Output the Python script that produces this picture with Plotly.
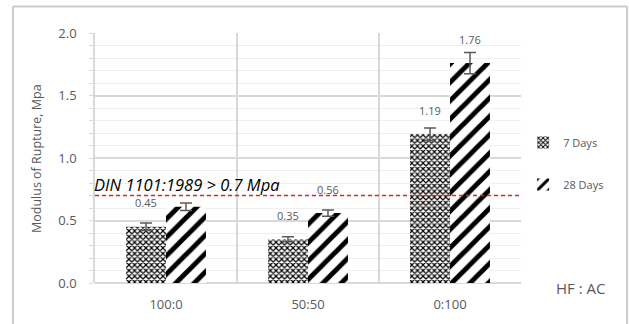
import plotly.graph_objects as go

categories = ["100:0", "50:50", "0:100"]
days7 = [0.45, 0.35, 1.19]
days28 = [0.61, 0.56, 1.76]
err7 = [0.03, 0.02, 0.05]
err28 = [0.03, 0.025, 0.085]
labels7 = ["0.45", "0.35", "1.19"]
labels28 = ["", "0.56", "1.76"]
y_ticks = [0.0, 0.5, 1.0, 1.5, 2.0]
threshold = 0.7

GRAY = "#595959"
FONT = "Open Sans"
BORDER = "#cccccc"

fig = go.Figure()
fig.add_trace(go.Bar(
    x=categories, y=days7, name="7 Days", legendgroup="a",
    marker=dict(color="white", line=dict(width=0),
                pattern=dict(shape="x", fgcolor="black", bgcolor="white", size=4, solidity=0.5, fillmode="replace")),
    error_y=dict(type="data", array=err7, color=GRAY, thickness=1.5, width=6),
))
fig.add_trace(go.Bar(
    x=categories, y=days28, name="28 Days", legendgroup="b",
    marker=dict(color="white", line=dict(width=0),
                pattern=dict(shape="/", fgcolor="black", bgcolor="white", size=13, solidity=0.38, fillmode="replace")),
    error_y=dict(type="data", array=err28, color=GRAY, thickness=1.5, width=6),
))

annotations = []
for c, v, t in zip(categories, days7, labels7):
    if t:
        annotations.append(dict(x=c, y=v, xref="x", yref="y", text=t, showarrow=False,
                                xshift=-20, yshift=24, font=dict(size=11, color=GRAY, family=FONT)))
for c, v, t in zip(categories, days28, labels28):
    if t:
        annotations.append(dict(x=c, y=v, xref="x", yref="y", text=t, showarrow=False,
                                xshift=20, yshift=24, font=dict(size=11, color=GRAY, family=FONT)))
annotations.append(dict(x=0, y=threshold, xref="paper", yref="y", xanchor="left", yanchor="bottom",
                        text="<i>DIN 1101:1989 > 0.7 Mpa</i>", showarrow=False, yshift=-2, xshift=-3,
                        font=dict(size=16.5, color="black", family=FONT)))
annotations.append(dict(x=1.1385, y=-0.018, xref="paper", yref="paper", xanchor="center", yanchor="middle",
                        text="HF : AC", showarrow=False,
                        font=dict(size=15, color=GRAY, family=FONT)))
annotations.append(dict(x=-0.1385, y=0.5, xref="paper", yref="paper", xanchor="center", yanchor="middle",
                        text="Modulus of Rupture, Mpa",
                        textangle=-90, showarrow=False, font=dict(size=12.5, color=GRAY, family=FONT)))

bx0, bx1, by0, by1 = -0.1925, 1.249, -0.2, 1.106
border_shapes = [
    dict(type="line", xref="paper", yref="paper", x0=bx0, x1=bx1, y0=by1, y1=by1, line=dict(color=BORDER, width=2)),
    dict(type="line", xref="paper", yref="paper", x0=bx0, x1=bx0, y0=by0, y1=by1, line=dict(color=BORDER, width=2)),
    dict(type="line", xref="paper", yref="paper", x0=bx1, x1=bx1, y0=by0, y1=by1, line=dict(color=BORDER, width=2)),
]

fig.update_layout(
    width=629, height=324,
    margin=dict(l=95, r=108, t=33, b=41, autoexpand=False),
    paper_bgcolor="white", plot_bgcolor="white",
    barmode="group", bargap=0.437, bargroupgap=0,
    font=dict(family=FONT, color=GRAY, size=12),
    showlegend=True,
    legend=dict(x=1.005, y=0.62, xanchor="left", yanchor="top", tracegroupgap=23, itemwidth=30,
                font=dict(size=11, color=GRAY, family=FONT), bgcolor="rgba(0,0,0,0)"),
    annotations=annotations,
    shapes=[
        dict(type="line", xref="paper", yref="y", x0=0, x1=1, y0=threshold, y1=threshold,
             line=dict(color="#d42a2a", width=1.5, dash="4px,3px")),
    ] + border_shapes,
)
fig.update_xaxes(
    type="category", tickson="boundaries", showgrid=True, gridcolor="#d9d9d9", gridwidth=1.5,
    ticks="", showline=False, tickfont=dict(size=13, color=GRAY), fixedrange=True,
    range=[-0.5, 2.5], ticklabelstandoff=12,
)
fig.update_yaxes(
    range=[0, 2.0], tickvals=y_ticks, ticktext=[f"{v:.1f}" for v in y_ticks],
    showgrid=True, gridcolor="#d9d9d9", gridwidth=1.5,
    zeroline=True, zerolinecolor="#d9d9d9", zerolinewidth=1.5,
    ticks="outside", ticklen=4, tickcolor="#d9d9d9",
    minor=dict(dtick=0.1, showgrid=True, gridcolor="#efefef", gridwidth=1, ticks="outside", ticklen=4, tickcolor="#d9d9d9"),
    tickfont=dict(size=13, color=GRAY), showline=True, linecolor="#d9d9d9", linewidth=1.5,
    ticklabelstandoff=10, fixedrange=True,
)

fig.write_html("out.html", config={"displayModeBar": False},
               post_script="document.body.style.margin='0';")
